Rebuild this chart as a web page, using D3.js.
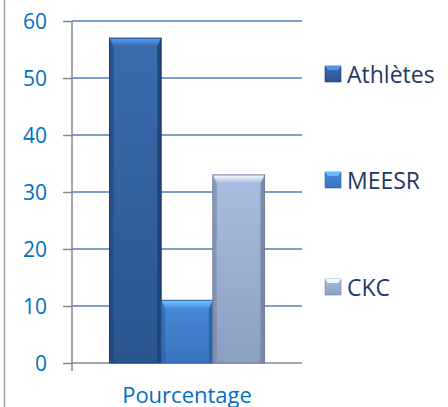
<!DOCTYPE html>
<html>
<head>
<meta charset="utf-8">
<script src="https://cdn.jsdelivr.net/npm/d3@7"></script>
<style>
  body { margin: 0; background: #fff; }
  svg { display: block; font-family: "Open Sans", "Liberation Sans", sans-serif; }
</style>
</head>
<body>
<div id="chart"></div>
<script>
// chart values
var categories = ["Pourcentage"];
var seriesNames = ["Athlètes", "MEESR", "CKC"];
var seriesValues = [57, 11, 33];
var yTicks = [0, 10, 20, 30, 40, 50, 60];

// [top, bottom, edge]
var colors = {
  "Athlètes": ["#3a6cad", "#2a558f", "#1d3f6e"],
  "MEESR": ["#4a8ad8", "#3874c0", "#2a5c9e"],
  "CKC": ["#a9bde0", "#8d9fc0", "#6f7f9e"]
};

var width = 448, height = 407;
var margin = {top: 21, left: 72, bottom: 44, right: 146};

var svg = d3.select("#chart").append("svg")
    .attr("width", width)
    .attr("height", height);

var defs = svg.append("defs");
seriesNames.forEach(function(s, i){
  var g = defs.append("linearGradient")
      .attr("id", "grad" + i)
      .attr("x1", "0").attr("x2", "0").attr("y1", "0").attr("y2", "1");
  g.append("stop").attr("offset", "0%").attr("stop-color", colors[s][0]);
  g.append("stop").attr("offset", "100%").attr("stop-color", colors[s][1]);
  var t = defs.append("linearGradient")
      .attr("id", "top" + i)
      .attr("x1", "0").attr("x2", "0").attr("y1", "0").attr("y2", "1");
  t.append("stop").attr("offset", "0%").attr("stop-color", d3.color(colors[s][0]).brighter(1.1));
  t.append("stop").attr("offset", "100%").attr("stop-color", colors[s][0]);
});

// left border of the frame
svg.append("line")
    .attr("x1", 4.5).attr("x2", 4.5)
    .attr("y1", 0).attr("y2", height)
    .attr("stroke", "#a0a0a0").attr("stroke-width", 1.5);

var plotRight = 302;
var y = d3.scaleLinear().domain([0, 60]).range([height - margin.bottom, margin.top]);
var x0 = d3.scaleBand().domain(categories).range([margin.left, plotRight]).paddingInner(0).paddingOuter(0.242);
var x1 = d3.scaleBand().domain(seriesNames).range([0, x0.bandwidth()]);

// gridlines
svg.append("g").selectAll("line")
  .data(yTicks.filter(function(d){ return d > 0; }))
  .enter().append("line")
    .attr("x1", margin.left).attr("x2", plotRight)
    .attr("y1", function(d){ return y(d); })
    .attr("y2", function(d){ return y(d); })
    .attr("stroke", "#4f81bd").attr("stroke-width", 1.5);

// y axis
var yAxis = svg.append("g")
    .attr("transform", "translate(" + margin.left + ",0)")
    .call(d3.axisLeft(y).tickValues(yTicks).tickSize(9).tickPadding(16));
yAxis.attr("font-size", null).attr("font-family", null);
yAxis.select(".domain").attr("stroke", "#888").attr("stroke-width", 1.5)
    .attr("d", "M0," + y(60) + "V" + (y(0) + 8));
yAxis.selectAll(".tick line").attr("stroke", "#888").attr("stroke-width", 1.5);
yAxis.selectAll(".tick text").attr("fill", "#0070c0").style("font-size", "21px")
    .attr("dy", "0.36em");

// x axis line
svg.append("line")
    .attr("x1", margin.left).attr("x2", plotRight)
    .attr("y1", y(0)).attr("y2", y(0))
    .attr("stroke", "#888").attr("stroke-width", 1.5);

// bars
var bars = svg.append("g");
seriesNames.forEach(function(s, i){
  var bx = x0(categories[0]) + x1(s);
  var bw = x1.bandwidth();
  var by = y(seriesValues[i]);
  var bh = y(0) - by;
  var g = bars.append("g");
  g.append("rect")
    .attr("x", bx).attr("y", by)
    .attr("width", bw).attr("height", bh)
    .attr("fill", "url(#grad" + i + ")");
  var b = 4, bt = 8;
  // side bevels
  g.append("path")
    .attr("d", "M" + bx + "," + by + "L" + (bx + b) + "," + (by + bt) +
               "L" + (bx + b) + "," + (y(0) - 1) + "L" + bx + "," + y(0) + "Z")
    .attr("fill", colors[s][2]).attr("opacity", 0.55);
  g.append("path")
    .attr("d", "M" + (bx + bw) + "," + by + "L" + (bx + bw - b) + "," + (by + bt) +
               "L" + (bx + bw - b) + "," + (y(0) - 1) + "L" + (bx + bw) + "," + y(0) + "Z")
    .attr("fill", colors[s][2]).attr("opacity", 0.8);
  // bevel top
  g.append("path")
    .attr("d", "M" + bx + "," + by + "L" + (bx + bw) + "," + by +
               "L" + (bx + bw - b) + "," + (by + bt) + "L" + (bx + b) + "," + (by + bt) + "Z")
    .attr("fill", "url(#top" + i + ")");
  g.append("rect")
    .attr("x", bx).attr("y", by)
    .attr("width", bw).attr("height", bh)
    .attr("fill", "none")
    .attr("stroke", colors[s][2]).attr("stroke-width", 1);
});

// category label
svg.append("text")
    .attr("x", x0(categories[0]) + x0.bandwidth() / 2)
    .attr("y", 403)
    .attr("text-anchor", "middle")
    .attr("fill", "#0070c0")
    .style("font-size", "22px")
    .text(categories[0]);

// legend
var legendY = [74, 180, 287];
var legend = svg.append("g");
seriesNames.forEach(function(s, i){
  var lg = legend.append("g").attr("transform", "translate(325," + legendY[i] + ")");
  lg.append("rect")
    .attr("x", 0).attr("y", -8).attr("width", 16).attr("height", 16)
    .attr("fill", "url(#grad" + i + ")")
    .attr("stroke", colors[s][2]).attr("stroke-width", 0.6);
  lg.append("path")
    .attr("d", "M0,-8L16,-8L13,-4L3,-4Z")
    .attr("fill", d3.color(colors[s][0]).brighter(0.9));
  lg.append("text")
    .attr("x", 22).attr("y", 8.5)
    .attr("fill", "#1f3864")
    .style("font-size", "23px")
    .text(s);
});
</script>
</body>
</html>
